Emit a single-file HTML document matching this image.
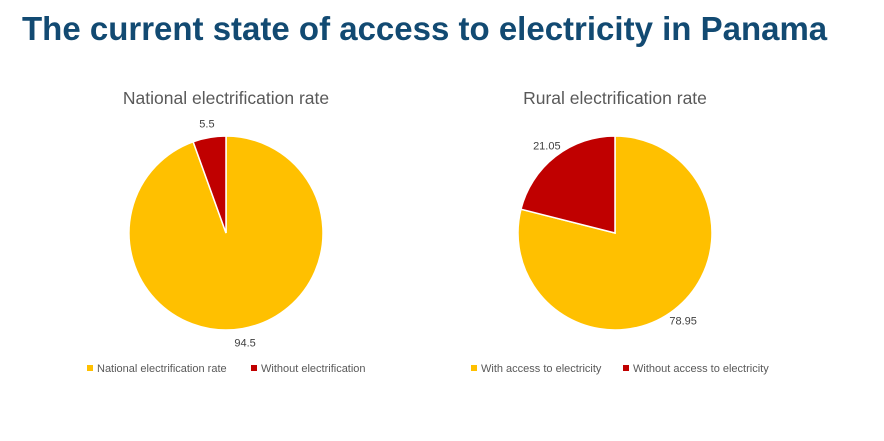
<!DOCTYPE html>
<html><head><meta charset="utf-8"><style>
body{margin:0;background:#fff;width:884px;height:436px;overflow:hidden;font-family:"Liberation Sans",sans-serif}
</style></head><body>
<svg width="884" height="436">
<text x="22" y="40" font-size="33" font-weight="bold" fill="#124a72">The current state of access to electricity in Panama</text>
<g id="pies"></g>
</svg>
<script>
const chartTitles=["National electrification rate","Rural electrification rate"];
const nationalValues=[94.5,5.5];
const ruralValues=[78.95,21.05];
const nationalLabels=["National electrification rate","Without electrification"];
const ruralLabels=["With access to electricity","Without access to electricity"];
const colors=["#ffc000","#c00000"];
const NS="http://www.w3.org/2000/svg";
const g=document.getElementById('pies');
function mk(t,a){const e=document.createElementNS(NS,t);for(const k in a)e.setAttribute(k,a[k]);g.appendChild(e);return e;}
function drawPie(cx,cy,r,vals,labels,title,legendX,legendGap,idx){
  const tt=mk('text',{x:cx,y:104,'font-size':17.5,fill:'#595959','text-anchor':'middle'});
  tt.textContent=title;
  
  
  const tot=vals.reduce((a,b)=>a+b,0);let a0=0;
  vals.forEach((v,i)=>{
    const a1=a0+v/tot*2*Math.PI;
    const p=(a)=>[cx+r*Math.sin(a),cy-r*Math.cos(a)];
    const [x0,y0]=p(a0),[x1,y1]=p(a1);
    const large=(a1-a0)>Math.PI?1:0;
    const s=mk('path',{d:`M${cx},${cy}L${x0},${y0}A${r},${r} 0 ${large} 1 ${x1},${y1}Z`,fill:colors[i],stroke:'#fff','stroke-width':1.5});
    
    
    const m=(a0+a1)/2;
    const lr=r+14;
    const lt=mk('text',{x:cx+lr*Math.sin(m),y:cy-lr*Math.cos(m)+4,'font-size':11,fill:'#404040','text-anchor':'middle'});
    lt.textContent=String(v);
    
    
    a0=a1;
  });
  let x=legendX;
  labels.forEach((l,i)=>{
    const rc=mk('rect',{x:x,y:365,width:6,height:6,fill:colors[i]});
    
    
    const t=mk('text',{x:x+10,y:372,'font-size':11,fill:'#595959'});
    t.textContent=l;
    
    
    x+=legendGap[i];
  });
}
drawPie(226,233,97,nationalValues,nationalLabels,chartTitles[0],87,[164],0);
drawPie(615,233,97,ruralValues,ruralLabels,chartTitles[1],471,[152],1);
</script>
</body></html>
